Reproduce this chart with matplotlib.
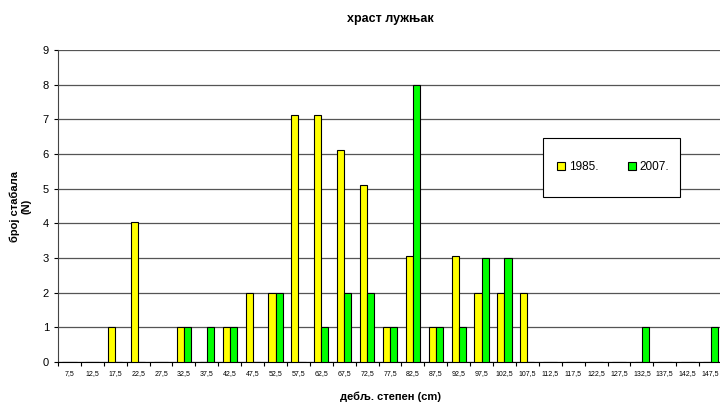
import matplotlib.pyplot as plt
from matplotlib.patches import Rectangle
import numpy as np

# класе дебљинског степена (cm)
classes = [7.5, 12.5, 17.5, 22.5, 27.5, 32.5, 37.5, 42.5, 47.5, 52.5,
           57.5, 62.5, 67.5, 72.5, 77.5, 82.5, 87.5, 92.5, 97.5, 102.5,
           107.5, 112.5, 117.5, 122.5, 127.5, 132.5, 137.5, 142.5, 147.5]
n_1985 = [0, 0, 1, 4.05, 0, 1, 0, 1, 2, 2,
          7.12, 7.12, 6.12, 5.1, 1, 3.05, 1, 3.05, 2, 2,
          2, 0, 0, 0, 0, 0, 0, 0, 0]
n_2007 = [0, 0, 0, 0, 0, 1, 1, 1, 0, 2,
          0, 1, 2, 2, 1, 8, 1, 1, 3, 3,
          0, 0, 0, 0, 0, 1, 0, 0, 1]
tick_labels = [f"{c:.1f}".replace(".", ",") for c in classes]

plt.rcParams["font.family"] = ["Liberation Sans", "DejaVu Sans"]

W, H = 720, 403
L, R, T, B = 58, 722, 50, 362
fig = plt.figure(figsize=(W / 100, H / 100), dpi=100)
ax = fig.add_axes([L / W, 1 - B / H, (R - L) / W, (B - T) / H])


def ax_xy(px, py):
    # пиксели слике -> координате оса
    return (px - L) / (R - L), (B - py) / (B - T)


x = np.arange(len(classes))
w = 0.31
ax.bar(x - w / 2, n_1985, w, color="#ffff00", edgecolor="black", linewidth=0.8,
       label="1985.", zorder=3)
ax.bar(x + w / 2, n_2007, w, color="#00ff00", edgecolor="black", linewidth=0.8,
       label="2007.", zorder=3)

ax.set_xlim(-0.5, len(classes) - 0.5)
ax.set_ylim(0, 9)
ax.set_yticks(range(10))
ax.tick_params(axis="y", labelsize=8, length=3, width=0.8)
ax.set_xticks(x)
ax.set_xticklabels(tick_labels, fontsize=5)
ax.set_xticks(np.arange(-0.5, len(classes), 1), minor=True)
ax.tick_params(axis="x", which="major", length=0, pad=6)
ax.tick_params(axis="x", which="minor", length=3, width=0.8)

ax.yaxis.grid(True, color="#555555", linewidth=0.9, zorder=0)
for s in ["top", "right"]:
    ax.spines[s].set_visible(False)
ax.spines["left"].set_color("#444444")
ax.spines["bottom"].set_color("black")

ax.set_title("храст лужњак", fontsize=9, fontweight="bold", pad=20)
ax.set_xlabel("дебљ. степен (cm)", fontsize=8, fontweight="bold", labelpad=10)
ax.set_ylabel("број стабала\n(N)", fontsize=8, fontweight="bold", labelpad=8)

# оквир легенде
x0, y0 = ax_xy(543, 197)
x1, y1 = ax_xy(680, 138)
ax.add_patch(Rectangle((x0, y0), x1 - x0, y1 - y0, transform=ax.transAxes,
                       facecolor="white", edgecolor="black", linewidth=0.8, zorder=5))
lx, ly = ax_xy(557, 167)
leg = ax.legend(loc="center left", bbox_to_anchor=(lx, ly), ncol=2, fontsize=8.5,
                frameon=False, handlelength=0.7, handleheight=0.7,
                handletextpad=0.3, columnspacing=2.5, borderpad=0, borderaxespad=0)
leg.set_zorder(6)

fig.savefig("out.png", dpi=100)
